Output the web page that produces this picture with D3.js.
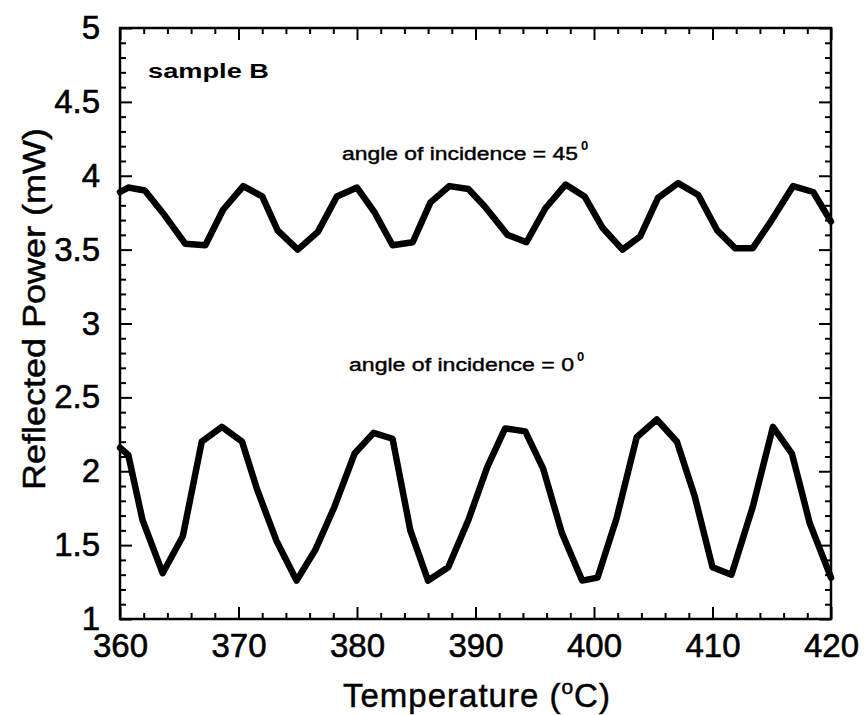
<!DOCTYPE html>
<html><head><meta charset="utf-8">
<script src="https://cdn.jsdelivr.net/npm/d3@7"></script>
<style>
body{margin:0;background:#fff;}
svg{display:block;font-family:"Liberation Sans",Arial,sans-serif;}
</style></head>
<body><svg id="c" width="864" height="715"></svg>
<script>
// Data (temperature in °C, reflected power in mW)
const temp45 = [360,360.7,362.1,363.6,365.5,367.2,368.7,370.4,372.0,373.3,375.0,376.7,378.3,380.0,381.5,383.0,384.7,386.2,387.8,389.4,390.8,392.7,394.3,395.9,397.6,399.2,400.7,402.4,403.9,405.4,407.1,408.8,410.4,411.9,413.4,415.0,416.8,418.5,420];
const power45 = [3.89,3.92,3.90,3.75,3.54,3.53,3.77,3.93,3.86,3.63,3.50,3.62,3.86,3.92,3.75,3.53,3.55,3.82,3.93,3.91,3.79,3.60,3.55,3.78,3.94,3.86,3.65,3.50,3.59,3.85,3.95,3.87,3.63,3.51,3.51,3.70,3.93,3.89,3.69];
const temp0 = [360,360.7,361.9,363.6,365.3,366.9,368.6,370.3,371.6,373.2,374.9,376.5,378.1,379.8,381.4,383.0,384.5,386.0,387.7,389.4,391.0,392.5,394.2,395.7,397.3,399.0,400.3,401.9,403.6,405.3,407.0,408.5,410.0,411.6,413.4,415.1,416.7,418.2,420];
const power0 = [2.16,2.11,1.67,1.31,1.56,2.20,2.30,2.20,1.87,1.53,1.26,1.47,1.76,2.12,2.26,2.22,1.60,1.26,1.35,1.67,2.03,2.29,2.27,2.02,1.58,1.26,1.28,1.68,2.23,2.35,2.20,1.83,1.35,1.30,1.76,2.30,2.12,1.65,1.28];
const xMajor = [360,370,380,390,400,410,420];
const yMajor = [1,1.5,2,2.5,3,3.5,4,4.5,5];
const xTitle = "Temperature (";
const yTitle = "Reflected Power (mW)";
const label45 = "angle of incidence = 45";
const label0 = "angle of incidence = 0";
const sampleLabel = "sample B";

const svg = d3.select("#c");
const L=120, R=831, T=28, B=619;
const x = d3.scaleLinear().domain([360,420]).range([L,R]);
const y = d3.scaleLinear().domain([1,5]).range([B,T]);

const xMinor = d3.range(360,420.01,2).filter(v=>v%10!==0);
const yMinor = d3.range(10,50.01,1).map(v=>v/10).filter(v=>Math.abs(v*2-Math.round(v*2))>1e-6);

function styleAxis(g){
  g.select(".domain").remove();
  g.selectAll("line").attr("stroke","#000").attr("stroke-width",2);
  g.selectAll("text").attr("fill","#000").attr("font-size",33)
    .attr("stroke","#000").attr("stroke-width",0.6)
    .attr("font-family","Liberation Sans, Arial, sans-serif");
}
// bottom
svg.append("g").attr("transform",`translate(0,${B})`)
  .call(d3.axisBottom(x).tickValues(xMajor).tickSize(-12).tickPadding(15).tickFormat(d3.format("d"))).call(styleAxis);
svg.append("g").attr("transform",`translate(0,${B})`)
  .call(d3.axisBottom(x).tickValues(xMinor).tickSize(-6).tickFormat("")).call(styleAxis);
// top
svg.append("g").attr("transform",`translate(0,${T})`)
  .call(d3.axisTop(x).tickValues(xMajor).tickSize(-12).tickFormat("")).call(styleAxis);
svg.append("g").attr("transform",`translate(0,${T})`)
  .call(d3.axisTop(x).tickValues(xMinor).tickSize(-6).tickFormat("")).call(styleAxis);
// left
svg.append("g").attr("transform",`translate(${L},0)`)
  .call(d3.axisLeft(y).tickValues(yMajor).tickSize(-12).tickPadding(20).tickFormat(d=>String(d))).call(styleAxis);
svg.append("g").attr("transform",`translate(${L},0)`)
  .call(d3.axisLeft(y).tickValues(yMinor).tickSize(-6).tickFormat("")).call(styleAxis);
// right
svg.append("g").attr("transform",`translate(${R},0)`)
  .call(d3.axisRight(y).tickValues(yMajor).tickSize(-12).tickFormat("")).call(styleAxis);
svg.append("g").attr("transform",`translate(${R},0)`)
  .call(d3.axisRight(y).tickValues(yMinor).tickSize(-6).tickFormat("")).call(styleAxis);

// frame
svg.append("rect").attr("x",L).attr("y",T).attr("width",R-L).attr("height",B-T)
  .attr("fill","none").attr("stroke","#000").attr("stroke-width",2.5);

// lines
const line = d3.line().x(d=>x(d[0])).y(d=>y(d[1]));
[[temp45,power45],[temp0,power0]].forEach(([t,p])=>{
  svg.append("path").datum(t.map((v,i)=>[v,p[i]]))
    .attr("d",line).attr("fill","none").attr("stroke","#000")
    .attr("stroke-width",6.5).attr("stroke-linejoin","round").attr("stroke-linecap","round");
});

// annotations
svg.append("text").attr("x",148).attr("y",78).attr("font-size",20).attr("font-weight","bold")
  .attr("textLength",121).attr("lengthAdjust","spacingAndGlyphs").text(sampleLabel);
function angleLabel(txt,x0,y0,w){
  const t = svg.append("text").attr("x",x0).attr("y",y0).attr("font-size",18)
    .attr("stroke","#000").attr("stroke-width",0.4);
  t.append("tspan").attr("textLength",w).attr("lengthAdjust","spacingAndGlyphs").text(txt);
  svg.append("text").attr("x",x0+w+3).attr("y",y0-10).attr("font-size",13).attr("font-weight","bold").text("0");
}
angleLabel(label45,342,160,236);
angleLabel(label0,349,371,225);

// axis titles
const xt = svg.append("text").attr("x",343).attr("y",707).attr("font-size",33)
  .attr("letter-spacing",1).attr("stroke","#000").attr("stroke-width",0.5);
xt.append("tspan").text(xTitle);
xt.append("tspan").attr("font-size",21).attr("dy",-13).text("o");
xt.append("tspan").attr("dy",13).text("C)");
svg.append("text").attr("transform","translate(45,309) rotate(-90)").attr("text-anchor","middle")
  .attr("font-size",32).attr("stroke","#000").attr("stroke-width",0.5)
  .attr("textLength",362).attr("lengthAdjust","spacingAndGlyphs").text(yTitle);
</script></body></html>
